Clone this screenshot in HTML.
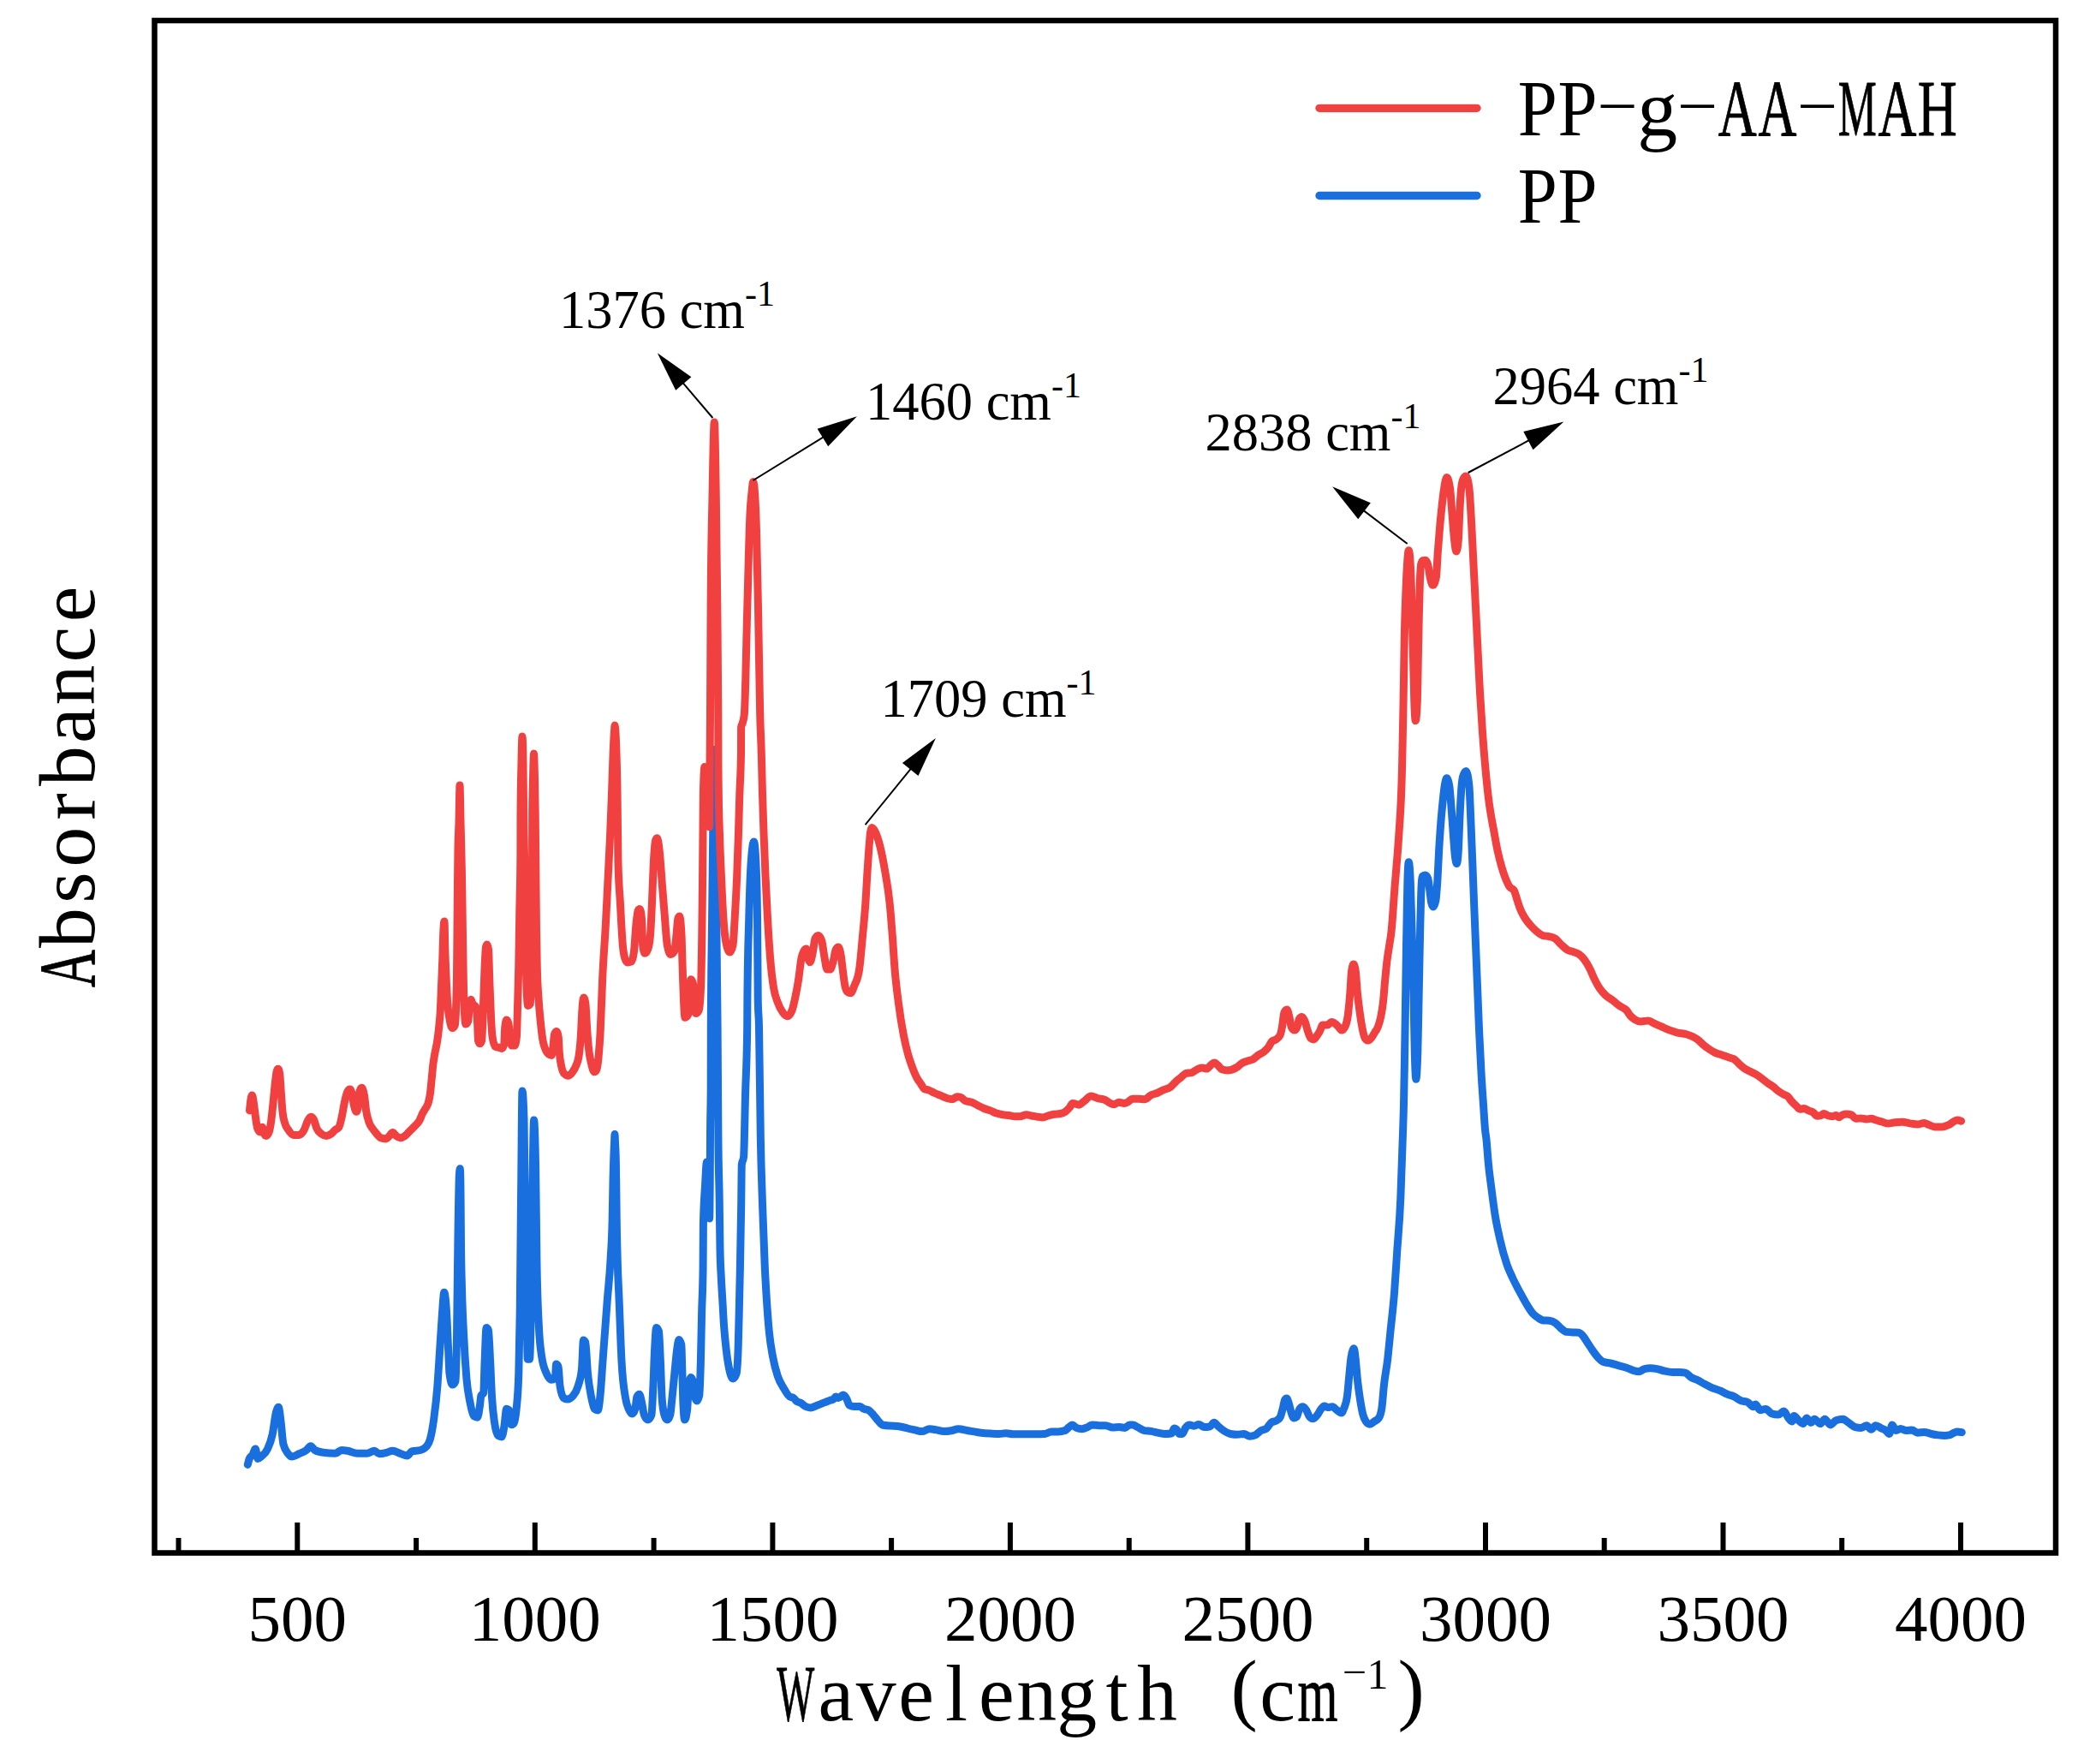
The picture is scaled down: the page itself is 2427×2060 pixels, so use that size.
<!DOCTYPE html>
<html lang="en"><head><meta charset="utf-8"><title>Absorbance</title>
<style>
html,body{margin:0;padding:0;background:#fff}
svg{display:block}
text{font-family:"Liberation Serif","Noto Serif CJK SC",serif;fill:#000}
.ax{font-size:93.75px}
.tk{font-size:77px;text-anchor:middle}
.an{font-size:62.5px}
.sp{font-size:42px}
</style></head><body>
<svg width="2427" height="2060" viewBox="0 0 2427 2060">
<rect width="2427" height="2060" fill="#fff"/>
<path fill="none" stroke="#1A6FDF" stroke-width="9" stroke-linejoin="round" stroke-linecap="round" d="M289.3 1710.5C290.0 1707.7 290.6 1705.0 291.3 1703.4C292.5 1700.5 293.7 1701.1 294.9 1699.1C296.0 1697.2 297.2 1692.1 298.3 1692.1C299.3 1692.1 300.2 1703.4 301.2 1703.4C302.6 1703.4 304.0 1701.8 305.4 1700.6C307.8 1698.6 310.1 1697.3 312.5 1692.1C314.4 1687.9 316.3 1684.1 318.2 1675.0C319.6 1668.3 321.0 1654.7 322.4 1649.5C323.4 1645.9 324.3 1643.3 325.3 1643.3C326.2 1643.3 327.2 1653.7 328.1 1660.9C329.0 1668.1 330.0 1682.7 330.9 1686.4C332.8 1693.9 334.7 1695.2 336.6 1697.7C338.0 1699.5 339.4 1701.1 340.8 1701.1C343.6 1701.1 346.5 1699.0 349.3 1697.7C352.1 1696.4 355.0 1695.7 357.8 1693.5C359.5 1692.2 361.2 1688.7 362.9 1688.7C364.5 1688.7 366.2 1692.6 367.8 1693.5C371.1 1695.4 374.4 1695.9 377.7 1696.3C382.4 1696.9 387.1 1697.2 391.8 1697.2C394.2 1697.2 396.5 1693.5 398.9 1693.5C401.3 1693.5 403.6 1693.9 406.0 1694.3C409.8 1694.9 413.6 1697.2 417.4 1697.2C421.2 1697.2 424.9 1697.2 428.7 1697.2C431.5 1697.2 434.4 1694.3 437.2 1694.3C439.1 1694.3 441.0 1697.7 442.9 1697.7C445.7 1697.7 448.6 1697.0 451.4 1696.3C453.7 1695.8 456.1 1694.3 458.4 1694.3C461.7 1694.3 465.1 1696.6 468.4 1697.7C470.7 1698.5 473.1 1700.0 475.4 1700.0C477.3 1700.0 479.2 1695.4 481.1 1694.9C484.4 1694.0 487.7 1694.4 491.0 1693.5C493.4 1692.8 495.7 1692.1 498.1 1689.2C499.5 1687.5 501.0 1686.0 502.4 1680.7C503.8 1675.5 505.2 1668.2 506.6 1658.0C508.0 1647.6 509.5 1636.8 510.9 1618.4C511.8 1606.4 512.8 1590.1 513.7 1575.9C514.6 1561.7 515.6 1545.2 516.5 1533.4C517.3 1523.7 518.0 1509.3 518.8 1509.3C519.7 1509.3 520.7 1518.5 521.6 1533.4C522.3 1544.1 522.9 1562.1 523.6 1575.9C524.1 1585.5 524.5 1600.7 525.0 1604.2C526.1 1612.7 527.3 1617.0 528.4 1617.0C529.6 1617.0 530.9 1615.6 532.1 1612.7C532.6 1611.6 533.0 1589.1 533.5 1561.7C534.0 1534.3 534.4 1479.4 534.9 1448.4C535.4 1415.1 535.9 1379.6 536.4 1371.8C536.7 1367.1 537.0 1364.8 537.3 1364.8C537.5 1364.8 537.8 1373.8 538.0 1391.7C538.2 1404.5 538.3 1437.3 538.5 1454.0C538.8 1487.4 539.2 1490.8 539.5 1505.0C540.2 1533.3 540.8 1541.4 541.5 1556.0C542.6 1580.9 543.8 1596.6 544.9 1609.9C546.3 1626.4 547.7 1630.9 549.1 1638.2C550.5 1645.7 552.0 1652.8 553.4 1653.8C554.8 1654.7 556.2 1655.2 557.6 1655.2C558.6 1655.2 559.5 1647.8 560.5 1641.0C561.0 1637.7 561.4 1630.6 561.9 1629.7C562.8 1627.8 563.8 1628.8 564.7 1626.9C565.2 1626.0 565.6 1601.0 566.1 1590.0C566.8 1574.2 567.4 1550.4 568.1 1550.4C568.9 1550.4 569.6 1551.3 570.4 1553.2C571.1 1555.0 571.9 1576.0 572.6 1590.0C573.3 1602.7 573.9 1621.5 574.6 1632.5C575.6 1648.5 576.5 1653.8 577.5 1660.9C578.9 1671.1 580.3 1675.6 581.7 1676.5C583.1 1677.4 584.6 1677.9 586.0 1677.9C586.9 1677.9 587.9 1671.9 588.8 1666.5C589.7 1661.1 590.7 1645.3 591.6 1645.3C592.6 1645.3 593.5 1645.8 594.5 1646.7C595.4 1647.6 596.4 1663.7 597.3 1663.7C598.2 1663.7 599.2 1663.2 600.1 1662.3C601.1 1661.3 602.0 1656.7 603.0 1646.7C603.9 1637.0 604.9 1632.5 605.8 1604.2C606.3 1590.0 606.7 1568.8 607.2 1533.4C607.7 1498.0 608.1 1434.9 608.6 1391.7C609.1 1348.5 609.5 1274.1 610.0 1274.1C610.7 1274.1 611.3 1285.0 612.0 1306.7C612.5 1321.9 612.9 1385.2 613.4 1420.0C614.0 1462.2 614.5 1502.9 615.1 1533.4C615.5 1555.0 615.9 1587.2 616.3 1587.2C617.0 1587.2 617.8 1587.2 618.5 1587.2C619.1 1587.2 619.6 1566.0 620.2 1533.4C620.8 1500.8 621.3 1429.2 621.9 1391.7C622.5 1354.1 623.0 1308.1 623.6 1308.1C624.3 1308.1 624.9 1326.5 625.6 1363.3C626.1 1389.1 626.5 1448.0 627.0 1476.7C627.8 1523.9 628.5 1530.9 629.3 1547.5C630.4 1572.1 631.6 1576.5 632.7 1584.4C634.6 1597.6 636.5 1599.7 638.4 1604.2C640.3 1608.6 642.1 1611.3 644.0 1611.3C645.4 1611.3 646.9 1610.8 648.3 1609.9C648.8 1609.6 649.2 1592.9 649.7 1592.9C650.5 1592.9 651.2 1593.8 652.0 1595.7C652.7 1597.3 653.3 1613.9 654.0 1618.4C655.4 1627.8 656.8 1631.5 658.2 1632.5C659.6 1633.5 661.1 1634.0 662.5 1634.0C664.8 1634.0 667.2 1632.6 669.5 1629.7C671.4 1627.4 673.3 1625.0 675.2 1618.4C676.6 1613.4 678.1 1611.8 679.5 1598.5C680.1 1592.6 680.8 1565.1 681.4 1565.1C682.2 1565.1 682.9 1565.9 683.7 1567.4C684.6 1569.3 685.6 1594.3 686.5 1604.2C687.9 1619.3 689.4 1625.3 690.8 1632.5C691.9 1638.2 693.1 1644.4 694.2 1645.3C695.6 1646.4 696.9 1646.9 698.3 1646.9C699.2 1646.9 700.1 1638.7 701.0 1630.0C702.0 1620.3 703.0 1603.0 704.0 1589.5C705.8 1565.7 707.5 1540.9 709.3 1518.1C710.6 1501.7 711.8 1494.6 713.1 1470.5C713.8 1457.2 714.5 1454.5 715.2 1422.9C715.5 1410.9 715.7 1392.0 716.0 1380.0C716.2 1369.5 716.5 1361.2 716.7 1354.0C717.0 1345.8 717.2 1340.9 717.5 1335.0C717.7 1331.3 717.8 1324.5 718.0 1324.5C718.2 1324.5 718.3 1331.3 718.5 1335.0C718.8 1340.9 719.0 1341.3 719.3 1354.0C719.4 1360.3 719.6 1370.1 719.7 1380.0C719.9 1392.4 720.0 1410.7 720.2 1422.9C720.5 1447.3 720.9 1457.2 721.2 1470.5C721.8 1495.7 722.5 1502.3 723.1 1518.1C724.1 1542.2 725.0 1571.4 726.0 1589.5C727.5 1617.6 729.0 1623.0 730.5 1632.4C731.8 1640.8 733.2 1642.9 734.5 1646.0C735.8 1649.0 737.0 1651.0 738.3 1651.0C739.5 1651.0 740.7 1649.1 741.9 1645.3C742.6 1643.2 743.2 1632.4 743.9 1631.1C744.9 1629.2 745.8 1628.3 746.8 1628.3C747.7 1628.3 748.7 1634.2 749.6 1638.2C750.5 1642.2 751.5 1650.0 752.4 1652.4C753.8 1656.1 755.3 1658.0 756.7 1658.0C758.1 1658.0 759.5 1656.1 760.9 1652.4C761.6 1650.6 762.2 1632.6 762.9 1618.4C763.5 1606.3 764.0 1586.9 764.6 1575.9C765.3 1563.0 765.9 1550.4 766.6 1550.4C767.5 1550.4 768.5 1551.8 769.4 1554.6C770.1 1556.6 770.7 1575.6 771.4 1590.0C772.0 1602.3 772.5 1624.4 773.1 1632.5C774.0 1645.8 775.0 1649.3 775.9 1652.4C777.0 1656.1 778.2 1658.0 779.3 1658.0C780.4 1658.0 781.6 1656.1 782.7 1652.4C783.5 1649.9 784.2 1639.6 785.0 1632.5C785.9 1623.8 786.9 1613.5 787.8 1604.2C788.8 1594.6 789.7 1582.8 790.7 1575.9C791.4 1570.7 792.2 1564.5 792.9 1564.5C793.9 1564.5 794.8 1566.4 795.8 1570.2C796.2 1571.6 796.5 1592.4 796.9 1604.2C797.3 1616.0 797.6 1633.7 798.0 1641.0C798.6 1652.3 799.1 1658.0 799.7 1658.0C800.7 1658.0 801.6 1654.2 802.6 1646.7C803.2 1642.3 803.7 1622.4 804.3 1618.4C805.2 1611.8 806.2 1608.5 807.1 1608.5C808.0 1608.5 809.0 1610.8 809.9 1615.5C810.6 1618.8 811.2 1630.2 811.9 1632.5C812.6 1634.8 813.2 1635.9 813.9 1635.9C814.8 1635.9 815.8 1633.8 816.7 1629.7C817.3 1627.2 817.8 1611.1 818.4 1590.0C818.8 1575.1 819.2 1550.2 819.6 1533.4C820.1 1512.4 820.6 1515.6 821.1 1480.0C821.2 1472.9 821.3 1434.3 821.4 1430.0C822.1 1400.0 822.8 1397.5 823.5 1385.0C824.1 1373.7 824.8 1357.0 825.4 1357.0C826.0 1357.0 826.7 1370.2 827.3 1385.0C827.7 1395.1 828.2 1423.0 828.6 1423.0C828.8 1423.0 829.0 1408.3 829.2 1380.0C829.3 1365.8 829.4 1341.9 829.5 1327.0C829.7 1292.2 830.0 1307.3 830.2 1268.0C830.2 1262.4 830.3 1206.7 830.3 1200.0C830.7 1120.0 831.1 1117.6 831.5 1080.0C832.0 1033.0 832.5 989.7 833.0 950.0C833.3 923.5 833.7 875.5 834.0 875.5C834.3 875.5 834.7 925.4 835.0 950.0C835.6 994.2 836.2 1029.7 836.8 1080.0C837.2 1116.4 837.7 1142.2 838.1 1200.0C838.4 1235.6 838.6 1297.1 838.9 1327.0C839.3 1375.7 839.8 1370.9 840.2 1400.0C840.5 1417.9 840.7 1445.2 841.0 1459.0C841.4 1479.7 841.8 1481.1 842.2 1490.0C842.7 1501.9 843.3 1508.7 843.8 1518.0C844.4 1527.9 844.9 1539.1 845.5 1547.5C846.4 1561.3 847.4 1568.9 848.3 1577.0C849.4 1586.3 850.4 1592.7 851.5 1598.0C853.0 1605.4 854.5 1610.0 856.0 1610.0C857.4 1610.0 858.7 1608.1 860.1 1604.2C860.8 1602.3 861.4 1594.8 862.1 1575.9C862.5 1565.5 862.8 1548.6 863.2 1533.4C863.6 1516.8 864.0 1500.2 864.4 1480.0C864.8 1458.1 865.3 1436.5 865.7 1406.0C865.9 1391.9 866.1 1361.6 866.3 1360.0C867.1 1354.0 867.8 1357.0 868.6 1351.0C869.2 1346.0 869.9 1302.4 870.5 1279.0C871.2 1251.9 872.0 1252.7 872.7 1200.0C872.8 1195.2 872.8 1172.4 872.9 1165.7C873.5 1102.2 874.2 1095.6 874.8 1070.5C875.5 1041.4 876.3 1021.3 877.0 1010.0C878.2 992.0 879.3 983.0 880.5 983.0C881.3 983.0 882.2 992.0 883.0 1010.0C883.5 1020.8 884.0 1030.2 884.5 1070.5C884.7 1089.3 885.0 1153.4 885.2 1165.7C885.6 1188.6 886.1 1180.5 886.5 1200.0C887.1 1226.9 887.7 1294.0 888.3 1327.0C889.0 1367.3 889.8 1382.7 890.5 1406.0C891.4 1435.6 892.4 1459.8 893.3 1480.0C894.0 1495.8 894.8 1507.8 895.5 1519.2C896.5 1534.3 897.4 1546.1 898.4 1556.0C899.8 1570.4 901.2 1576.6 902.6 1584.4C904.5 1595.0 906.4 1601.1 908.3 1607.0C910.7 1614.3 913.0 1617.2 915.4 1621.2C917.7 1625.2 920.1 1629.6 922.4 1631.1C923.8 1632.0 925.3 1631.6 926.7 1632.5C928.1 1633.4 929.5 1635.9 930.9 1636.8C932.3 1637.7 933.8 1637.5 935.2 1638.2C937.1 1639.2 939.0 1641.6 940.9 1642.5C942.8 1643.4 944.6 1643.9 946.5 1643.9C949.3 1643.9 952.2 1642.0 955.0 1641.0C957.8 1640.0 960.7 1638.7 963.5 1637.6C965.4 1636.9 967.3 1636.1 969.2 1635.4C970.6 1634.9 972.0 1634.9 973.4 1634.0C974.4 1633.4 975.3 1631.1 976.3 1631.1C977.2 1631.1 978.2 1632.5 979.1 1632.5C981.0 1632.5 982.9 1629.1 984.8 1629.1C986.2 1629.1 987.6 1631.3 989.0 1634.0C990.0 1635.8 990.9 1640.5 991.9 1641.0C993.8 1642.0 995.6 1642.5 997.5 1642.5C999.9 1642.5 1002.2 1642.5 1004.6 1642.5C1006.0 1642.5 1007.5 1644.6 1008.9 1645.3C1010.8 1646.2 1012.6 1645.8 1014.5 1646.7C1016.4 1647.7 1018.3 1650.3 1020.2 1652.4C1022.1 1654.5 1024.0 1657.5 1025.9 1659.5C1027.8 1661.5 1029.6 1663.9 1031.5 1664.3C1034.3 1664.8 1037.2 1664.9 1040.0 1665.1C1043.8 1665.4 1047.6 1665.4 1051.4 1666.0C1054.2 1666.4 1057.1 1667.3 1059.9 1668.0C1062.7 1668.7 1065.6 1669.3 1068.4 1669.9C1071.2 1670.5 1074.1 1671.6 1076.9 1671.6C1079.7 1671.6 1082.6 1668.8 1085.4 1668.8C1088.2 1668.8 1091.1 1669.4 1093.9 1669.9C1096.7 1670.4 1099.6 1671.6 1102.4 1671.6C1105.2 1671.6 1108.1 1671.3 1110.9 1670.8C1113.7 1670.3 1116.6 1668.8 1119.4 1668.8C1123.2 1668.8 1126.9 1670.2 1130.7 1670.8C1133.1 1671.2 1135.5 1671.5 1137.9 1671.9C1140.6 1672.3 1143.2 1672.9 1145.9 1673.2C1149.4 1673.6 1153.0 1673.8 1156.5 1674.0C1160.0 1674.2 1163.6 1674.5 1167.1 1674.5C1169.7 1674.5 1172.4 1673.7 1175.0 1673.7C1177.6 1673.7 1180.3 1674.8 1182.9 1674.8C1187.3 1674.8 1191.8 1674.8 1196.2 1674.8C1200.6 1674.8 1205.0 1674.8 1209.4 1674.8C1212.9 1674.8 1216.5 1674.7 1220.0 1674.5C1222.6 1674.4 1225.3 1671.9 1227.9 1671.9C1230.6 1671.9 1233.2 1671.9 1235.9 1671.9C1238.5 1671.9 1241.2 1671.5 1243.8 1670.6C1245.4 1670.1 1247.0 1667.8 1248.6 1666.6C1249.8 1665.6 1251.1 1663.9 1252.3 1663.9C1253.9 1663.9 1255.5 1666.8 1257.1 1667.4C1259.3 1668.3 1261.5 1668.7 1263.7 1668.7C1265.9 1668.7 1268.1 1667.5 1270.3 1666.6C1272.1 1665.9 1273.8 1663.9 1275.6 1663.9C1278.2 1663.9 1280.9 1664.7 1283.5 1664.7C1286.2 1664.7 1288.8 1664.7 1291.5 1664.7C1294.1 1664.7 1296.8 1667.1 1299.4 1667.1C1302.0 1667.1 1304.7 1666.6 1307.3 1666.6C1309.5 1666.6 1311.8 1667.4 1314.0 1667.4C1315.8 1667.4 1317.5 1663.9 1319.3 1663.9C1320.6 1663.9 1321.9 1663.9 1323.2 1663.9C1325.0 1663.9 1326.7 1665.7 1328.5 1666.6C1331.2 1667.9 1333.8 1670.1 1336.5 1670.6C1339.1 1671.1 1341.8 1671.0 1344.4 1671.4C1347.0 1671.8 1349.7 1672.7 1352.3 1673.2C1355.0 1673.7 1357.6 1674.5 1360.3 1674.5C1362.9 1674.5 1365.6 1674.3 1368.2 1674.0C1369.3 1673.9 1370.3 1667.9 1371.4 1667.9C1372.3 1667.9 1373.1 1668.4 1374.0 1669.2C1375.2 1670.3 1376.3 1674.5 1377.5 1674.5C1378.6 1674.5 1379.8 1674.5 1380.9 1674.5C1382.1 1674.5 1383.4 1669.1 1384.6 1667.4C1386.2 1665.2 1387.8 1663.9 1389.4 1663.9C1391.2 1663.9 1392.9 1665.3 1394.7 1665.3C1396.5 1665.3 1398.2 1663.4 1400.0 1663.4C1402.2 1663.4 1404.4 1666.6 1406.6 1666.6C1408.8 1666.6 1411.0 1666.3 1413.2 1665.8C1414.8 1665.4 1416.4 1661.3 1418.0 1661.3C1419.5 1661.3 1421.0 1664.0 1422.5 1665.3C1424.7 1667.2 1426.9 1669.1 1429.1 1670.6C1431.7 1672.3 1434.4 1674.0 1437.0 1674.5C1439.7 1675.0 1442.3 1675.3 1445.0 1675.3C1447.6 1675.3 1450.3 1674.5 1452.9 1674.5C1455.1 1674.5 1457.3 1677.2 1459.5 1677.2C1461.7 1677.2 1464.0 1676.8 1466.2 1675.9C1468.4 1675.0 1470.6 1671.9 1472.8 1670.6C1475.0 1669.3 1477.2 1669.7 1479.4 1667.9C1481.2 1666.5 1482.9 1662.7 1484.7 1661.3C1486.9 1659.6 1489.1 1660.4 1491.3 1658.7C1492.6 1657.7 1494.0 1657.4 1495.3 1654.7C1496.3 1652.6 1497.4 1648.1 1498.4 1644.1C1499.1 1641.2 1499.9 1636.1 1500.6 1634.8C1501.3 1633.6 1502.0 1633.0 1502.7 1633.0C1503.6 1633.0 1504.4 1636.1 1505.3 1638.8C1506.2 1641.6 1507.1 1646.6 1508.0 1649.4C1509.1 1652.7 1510.1 1656.0 1511.2 1656.0C1512.2 1656.0 1513.3 1655.6 1514.3 1654.7C1515.5 1653.7 1516.6 1647.0 1517.8 1645.4C1519.1 1643.7 1520.4 1642.8 1521.7 1642.8C1523.0 1642.8 1524.4 1644.7 1525.7 1646.7C1527.0 1648.7 1528.4 1653.3 1529.7 1654.7C1531.0 1656.1 1532.4 1656.8 1533.7 1656.8C1535.4 1656.8 1537.2 1654.3 1538.9 1652.0C1540.2 1650.2 1541.6 1647.1 1542.9 1645.4C1544.2 1643.7 1545.6 1642.0 1546.9 1642.0C1548.2 1642.0 1549.6 1643.6 1550.9 1643.6C1552.7 1643.6 1554.4 1642.8 1556.2 1642.8C1557.9 1642.8 1559.7 1645.5 1561.4 1646.7C1563.2 1647.9 1564.9 1649.9 1566.7 1649.9C1567.8 1649.9 1568.8 1647.0 1569.9 1644.1C1571.1 1640.9 1572.2 1639.6 1573.4 1630.9C1574.3 1624.4 1575.1 1613.0 1576.0 1604.4C1576.6 1598.1 1577.3 1590.5 1577.9 1585.9C1578.6 1580.8 1579.3 1578.4 1580.0 1576.6C1580.4 1575.5 1580.9 1574.7 1581.3 1574.7C1581.9 1574.7 1582.5 1580.9 1583.1 1585.9C1583.8 1592.0 1584.6 1602.7 1585.3 1609.7C1586.3 1619.5 1587.4 1626.7 1588.4 1633.5C1589.6 1641.1 1590.7 1647.6 1591.9 1652.0C1593.0 1656.3 1594.2 1658.4 1595.3 1660.0C1596.8 1662.1 1598.3 1663.2 1599.8 1663.2C1601.6 1663.2 1603.3 1661.2 1605.1 1660.0C1606.9 1658.8 1608.6 1658.7 1610.4 1656.0C1611.6 1654.2 1612.7 1652.0 1613.9 1644.1C1614.7 1638.4 1615.6 1625.5 1616.4 1617.7C1617.9 1604.1 1619.3 1599.4 1620.8 1586.5C1621.8 1577.4 1622.9 1565.7 1623.9 1555.4C1625.5 1539.7 1627.0 1529.1 1628.6 1508.6C1629.6 1495.1 1630.7 1477.4 1631.7 1461.8C1633.1 1441.1 1634.4 1432.0 1635.8 1399.5C1636.5 1382.1 1637.3 1359.1 1638.0 1337.0C1638.5 1321.9 1639.0 1312.0 1639.5 1290.0C1639.8 1276.8 1640.1 1260.8 1640.4 1243.5C1640.7 1224.3 1641.1 1201.3 1641.4 1179.3C1641.8 1155.1 1642.1 1126.8 1642.5 1104.4C1642.8 1086.1 1643.1 1069.3 1643.4 1054.6C1643.7 1041.5 1643.9 1026.0 1644.2 1019.7C1644.6 1011.0 1644.9 1006.7 1645.3 1006.7C1646.0 1006.7 1646.6 1014.3 1647.3 1029.6C1647.8 1041.0 1648.3 1062.9 1648.8 1079.5C1649.3 1096.1 1649.8 1107.8 1650.3 1129.4C1650.6 1143.8 1651.0 1162.7 1651.3 1179.3C1651.6 1195.9 1652.0 1216.4 1652.3 1229.1C1652.8 1248.2 1653.3 1260.3 1653.8 1260.3C1654.5 1260.3 1655.1 1249.9 1655.8 1229.1C1656.1 1218.7 1656.5 1195.9 1656.8 1179.3C1657.1 1162.7 1657.5 1146.0 1657.8 1129.4C1658.1 1112.8 1658.5 1094.0 1658.8 1079.5C1659.1 1065.0 1659.5 1050.4 1659.8 1042.1C1660.3 1029.6 1660.8 1023.8 1661.3 1023.4C1662.5 1022.5 1663.6 1022.1 1664.8 1022.1C1665.8 1022.1 1666.8 1023.4 1667.8 1025.9C1668.5 1027.6 1669.1 1034.8 1669.8 1039.6C1670.5 1044.4 1671.1 1051.6 1671.8 1054.6C1672.5 1057.6 1673.1 1059.1 1673.8 1059.1C1674.8 1059.1 1675.8 1056.8 1676.8 1052.1C1677.5 1049.0 1678.1 1040.0 1678.8 1029.6C1679.4 1019.7 1680.1 1003.2 1680.7 992.2C1681.4 980.6 1682.0 971.1 1682.7 962.3C1683.5 951.3 1684.4 942.8 1685.2 934.9C1686.0 927.0 1686.9 919.3 1687.7 914.9C1688.4 911.4 1689.0 908.7 1689.7 908.7C1690.7 908.7 1691.7 911.6 1692.7 917.4C1693.5 922.2 1694.4 934.4 1695.2 944.8C1696.0 955.2 1696.9 969.4 1697.7 979.8C1698.4 988.1 1699.0 997.5 1699.7 1002.2C1700.3 1006.2 1700.8 1008.4 1701.4 1008.4C1702.1 1008.4 1702.7 1003.0 1703.4 992.2C1703.8 985.2 1704.3 969.6 1704.7 959.8C1705.2 948.5 1705.7 937.9 1706.2 929.9C1706.9 918.2 1707.7 910.1 1708.4 907.4C1709.7 902.7 1710.9 900.4 1712.2 900.4C1713.4 900.4 1714.7 906.1 1715.9 917.4C1716.5 922.9 1717.1 941.1 1717.7 954.8C1718.4 970.0 1719.0 987.6 1719.7 1004.7C1720.3 1020.9 1721.0 1038.4 1721.6 1054.6C1722.3 1071.7 1722.9 1087.8 1723.6 1104.4C1724.3 1121.0 1724.9 1137.7 1725.6 1154.3C1726.3 1170.9 1726.9 1189.0 1727.6 1204.2C1728.4 1223.1 1729.3 1239.5 1730.1 1254.1C1730.9 1268.6 1731.8 1279.4 1732.6 1291.5C1733.3 1301.2 1733.9 1313.2 1734.6 1319.9C1735.0 1324.3 1735.5 1325.6 1735.9 1329.5C1736.7 1336.9 1737.6 1350.4 1738.4 1359.0C1739.6 1371.4 1740.8 1379.1 1742.0 1388.5C1743.3 1398.9 1744.7 1409.4 1746.0 1418.0C1748.0 1430.6 1749.9 1438.8 1751.9 1447.5C1754.6 1459.6 1757.4 1469.1 1760.1 1477.0C1762.2 1483.2 1764.4 1487.4 1766.5 1492.0C1768.9 1497.3 1771.4 1501.9 1773.8 1506.5C1776.5 1511.6 1779.2 1516.7 1781.9 1521.2C1784.9 1526.1 1787.8 1531.3 1790.8 1534.5C1792.7 1536.5 1794.6 1537.8 1796.5 1539.0C1798.5 1540.3 1800.6 1541.7 1802.6 1541.9C1804.9 1542.1 1807.3 1542.0 1809.6 1542.2C1811.8 1542.4 1814.0 1543.3 1816.2 1544.8C1818.4 1546.2 1820.6 1549.1 1822.8 1550.9C1825.0 1552.7 1827.2 1555.1 1829.4 1555.4C1832.0 1555.8 1834.7 1555.9 1837.3 1556.0C1839.5 1556.1 1841.8 1556.1 1844.0 1556.2C1845.8 1556.3 1847.5 1558.6 1849.3 1560.7C1851.1 1562.8 1852.8 1566.0 1854.6 1568.7C1856.3 1571.3 1858.1 1574.1 1859.8 1576.6C1862.0 1579.8 1864.3 1583.0 1866.5 1585.3C1868.7 1587.6 1870.9 1589.8 1873.1 1590.6C1875.7 1591.5 1878.4 1591.4 1881.0 1592.0C1884.1 1592.7 1887.2 1593.7 1890.3 1594.6C1893.4 1595.5 1896.5 1596.1 1899.6 1597.2C1902.2 1598.1 1904.9 1599.6 1907.5 1600.4C1909.7 1601.0 1911.9 1601.7 1914.1 1601.7C1916.3 1601.7 1918.5 1599.1 1920.7 1598.6C1922.9 1598.1 1925.1 1597.8 1927.3 1597.8C1930.0 1597.8 1932.6 1598.1 1935.3 1598.6C1938.4 1599.2 1941.4 1600.6 1944.5 1601.2C1947.6 1601.9 1950.7 1602.5 1953.8 1602.5C1956.5 1602.5 1959.1 1602.5 1961.8 1602.5C1964.0 1602.5 1966.2 1602.7 1968.4 1603.1C1970.6 1603.5 1972.8 1607.0 1975.0 1608.4C1977.6 1610.1 1980.3 1610.5 1982.9 1611.8C1985.6 1613.1 1988.2 1614.9 1990.9 1616.3C1993.5 1617.7 1996.2 1619.1 1998.8 1620.3C2002.3 1621.9 2005.9 1622.6 2009.4 1624.2C2012.0 1625.4 2014.7 1627.1 2017.3 1628.2C2020.0 1629.3 2022.6 1629.7 2025.3 1630.9C2027.9 1632.1 2030.6 1634.5 2033.2 1635.6C2035.9 1636.7 2038.5 1636.2 2041.2 1637.5C2043.4 1638.5 2045.6 1642.8 2047.8 1642.8C2048.7 1642.8 2049.5 1640.1 2050.4 1640.1C2052.2 1640.1 2053.9 1646.7 2055.7 1646.7C2057.9 1646.7 2060.1 1645.4 2062.3 1645.4C2064.5 1645.4 2066.8 1650.0 2069.0 1650.7C2071.6 1651.6 2074.3 1652.0 2076.9 1652.0C2079.1 1652.0 2081.3 1648.1 2083.5 1648.1C2085.3 1648.1 2087.0 1653.9 2088.8 1656.0C2090.1 1657.6 2091.5 1660.0 2092.8 1660.0C2093.7 1660.0 2094.5 1653.4 2095.4 1653.4C2097.2 1653.4 2098.9 1657.2 2100.7 1658.7C2102.5 1660.2 2104.2 1662.6 2106.0 1662.6C2107.3 1662.6 2108.7 1656.0 2110.0 1656.0C2111.8 1656.0 2113.5 1661.3 2115.3 1661.3C2116.6 1661.3 2117.9 1657.3 2119.2 1657.3C2121.4 1657.3 2123.7 1662.6 2125.9 1662.6C2127.7 1662.6 2129.4 1657.3 2131.2 1657.3C2133.4 1657.3 2135.6 1663.9 2137.8 1663.9C2140.0 1663.9 2142.2 1659.5 2144.4 1658.7C2147.0 1657.8 2149.7 1657.3 2152.3 1657.3C2154.5 1657.3 2156.7 1659.9 2158.9 1661.3C2161.6 1663.0 2164.2 1666.0 2166.9 1666.6C2169.1 1667.1 2171.3 1667.4 2173.5 1667.4C2175.7 1667.4 2177.9 1664.7 2180.1 1664.7C2181.9 1664.7 2183.6 1669.2 2185.4 1669.2C2187.2 1669.2 2188.9 1664.7 2190.7 1664.7C2192.9 1664.7 2195.1 1666.8 2197.3 1667.9C2199.1 1668.8 2200.8 1669.2 2202.6 1670.6C2203.9 1671.6 2205.3 1674.5 2206.6 1674.5C2207.7 1674.5 2208.9 1663.9 2210.0 1663.9C2211.5 1663.9 2213.0 1670.6 2214.5 1670.6C2216.3 1670.6 2218.0 1668.4 2219.8 1668.4C2222.0 1668.4 2224.2 1670.6 2226.4 1670.6C2228.6 1670.6 2230.9 1670.0 2233.1 1670.0C2235.3 1670.0 2237.5 1673.2 2239.7 1673.2C2242.3 1673.2 2245.0 1672.4 2247.6 1672.4C2250.3 1672.4 2252.9 1673.9 2255.6 1674.5C2258.2 1675.1 2260.9 1675.6 2263.5 1675.9C2266.1 1676.2 2268.8 1676.4 2271.4 1676.4C2273.2 1676.4 2274.9 1676.2 2276.7 1675.9C2278.5 1675.6 2280.2 1673.9 2282.0 1673.2C2283.3 1672.7 2284.7 1671.9 2286.0 1671.9C2287.8 1671.9 2289.5 1672.3 2291.3 1672.7"/>
<path fill="none" stroke="#F14040" stroke-width="9" stroke-linejoin="round" stroke-linecap="round" d="M291.5 1297.0C291.9 1292.8 292.3 1288.6 292.7 1285.7C293.3 1281.4 293.9 1278.9 294.5 1278.9C295.4 1278.9 296.3 1288.5 297.2 1294.7C297.8 1298.8 298.4 1304.5 299.0 1308.4C299.5 1311.9 300.1 1316.0 300.6 1317.4C301.7 1320.5 302.9 1322.0 304.0 1322.0C304.8 1322.0 305.5 1316.3 306.3 1316.3C307.1 1316.3 307.8 1322.6 308.6 1324.2C309.3 1325.7 310.1 1326.5 310.8 1326.5C311.9 1326.5 313.1 1325.0 314.2 1322.0C315.0 1320.0 315.7 1315.9 316.5 1310.6C317.3 1305.3 318.0 1297.6 318.8 1290.2C319.5 1283.2 320.3 1274.0 321.0 1267.5C321.8 1260.7 322.5 1252.6 323.3 1250.5C323.8 1249.0 324.4 1248.3 324.9 1248.3C325.5 1248.3 326.1 1250.2 326.7 1253.9C327.3 1257.6 327.9 1270.9 328.5 1278.9C329.0 1286.0 329.6 1294.2 330.1 1299.3C330.9 1306.6 331.6 1307.6 332.4 1310.6C333.9 1316.5 335.4 1317.3 336.9 1319.7C338.8 1322.7 340.7 1325.4 342.6 1325.4C344.9 1325.4 347.1 1325.4 349.4 1325.4C351.3 1325.4 353.2 1323.2 355.1 1319.7C356.6 1316.9 358.1 1311.1 359.6 1308.4C360.7 1306.4 361.9 1304.3 363.0 1304.3C364.1 1304.3 365.3 1305.3 366.4 1307.2C367.5 1309.1 368.7 1314.8 369.8 1317.4C371.7 1321.8 373.6 1322.7 375.5 1324.2C377.4 1325.7 379.2 1326.5 381.1 1326.5C383.0 1326.5 384.9 1325.6 386.8 1324.2C388.3 1323.1 389.8 1321.0 391.3 1319.7C392.8 1318.4 394.4 1318.6 395.9 1316.3C397.0 1314.6 398.2 1308.9 399.3 1303.8C400.4 1298.7 401.6 1290.6 402.7 1285.7C403.8 1280.8 405.0 1276.1 406.1 1274.3C407.0 1272.8 407.9 1272.1 408.8 1272.1C409.6 1272.1 410.3 1273.6 411.1 1276.6C411.8 1279.5 412.6 1286.8 413.3 1290.2C414.3 1294.9 415.3 1298.2 416.3 1298.2C417.1 1298.2 417.8 1295.5 418.6 1290.2C419.1 1286.7 419.6 1276.0 420.1 1274.3C420.9 1271.6 421.6 1270.3 422.4 1270.3C423.4 1270.3 424.4 1273.2 425.4 1278.9C426.1 1283.1 426.9 1292.2 427.6 1297.0C428.7 1304.4 429.9 1307.2 431.0 1310.6C432.5 1315.3 434.1 1316.3 435.6 1318.6C437.1 1320.8 438.6 1322.5 440.1 1324.2C441.6 1325.9 443.1 1328.2 444.6 1328.8C446.5 1329.5 448.4 1329.9 450.3 1329.9C451.8 1329.9 453.3 1327.9 454.8 1326.5C456.1 1325.3 457.4 1322.4 458.7 1322.4C460.1 1322.4 461.4 1325.5 462.8 1326.5C464.3 1327.7 465.8 1328.8 467.3 1328.8C469.2 1328.8 471.1 1327.8 473.0 1326.5C474.9 1325.2 476.8 1322.7 478.7 1320.8C480.6 1318.9 482.4 1317.2 484.3 1315.2C486.2 1313.1 488.1 1312.0 490.0 1308.4C491.1 1306.2 492.3 1302.7 493.4 1300.4C494.5 1298.1 495.7 1296.8 496.8 1294.7C497.9 1292.6 499.1 1292.1 500.2 1287.9C501.0 1285.0 501.7 1282.6 502.5 1276.6C503.0 1272.4 503.6 1266.0 504.1 1260.7C504.7 1254.7 505.3 1247.6 505.9 1242.6C506.6 1236.5 507.4 1233.1 508.1 1229.0C508.9 1224.7 509.6 1222.5 510.4 1217.6C511.2 1212.7 511.9 1207.6 512.7 1199.5C513.3 1193.2 513.9 1189.4 514.5 1176.8C514.8 1170.5 515.1 1161.6 515.4 1154.1C515.9 1142.5 516.3 1133.8 516.8 1120.1C517.1 1111.3 517.4 1097.4 517.7 1090.6C518.1 1080.8 518.6 1075.9 519.0 1075.9C519.3 1075.9 519.5 1098.4 519.8 1107.6C520.2 1121.4 520.6 1130.1 521.0 1139.4C521.6 1152.6 522.1 1163.0 522.7 1171.1C523.5 1182.0 524.2 1185.3 525.0 1190.0C526.1 1197.0 527.3 1200.6 528.4 1200.6C529.4 1200.6 530.3 1199.5 531.3 1197.2C531.7 1196.2 532.2 1190.4 532.6 1176.8C532.9 1166.3 533.3 1160.7 533.6 1131.4C533.8 1113.8 534.0 1084.6 534.2 1063.4C534.4 1038.7 534.7 1010.4 534.9 995.4C535.3 971.8 535.6 973.9 536.0 960.0C536.3 947.4 536.7 917.0 537.0 917.0C537.3 917.0 537.7 945.9 538.0 960.0C538.5 979.8 538.9 991.4 539.4 1018.0C539.7 1037.0 540.1 1064.3 540.4 1086.1C540.7 1105.7 541.0 1127.7 541.3 1142.8C541.6 1157.9 541.9 1170.4 542.2 1176.8C542.8 1189.7 543.4 1196.1 544.0 1196.1C544.9 1196.1 545.8 1195.0 546.7 1192.7C547.3 1191.2 547.9 1176.0 548.5 1172.3C549.0 1169.0 549.6 1167.3 550.1 1167.3C550.9 1167.3 551.6 1172.6 552.4 1173.4C553.1 1174.1 553.9 1173.8 554.6 1174.5C555.1 1175.0 555.7 1175.3 556.2 1176.8C556.7 1178.1 557.1 1186.2 557.6 1195.0C557.9 1200.7 558.2 1214.3 558.5 1215.4C559.1 1217.7 559.7 1218.8 560.3 1218.8C561.1 1218.8 561.8 1217.7 562.6 1215.4C563.2 1213.6 563.8 1191.9 564.4 1176.8C564.9 1163.4 565.5 1143.3 566.0 1131.4C566.5 1119.5 567.1 1107.3 567.6 1105.4C568.0 1103.9 568.5 1103.1 568.9 1103.1C569.4 1103.1 570.0 1105.0 570.5 1108.8C570.9 1111.7 571.3 1132.0 571.7 1142.8C572.3 1159.0 572.9 1176.5 573.5 1188.1C574.0 1198.4 574.6 1207.2 575.1 1210.8C576.2 1218.4 577.4 1221.6 578.5 1222.2C580.0 1222.9 581.5 1222.9 583.0 1223.3C584.1 1223.6 585.3 1224.4 586.4 1224.4C587.2 1224.4 587.9 1222.9 588.7 1219.9C589.1 1218.5 589.4 1202.9 589.8 1199.5C590.4 1193.9 591.0 1191.1 591.6 1191.1C592.4 1191.1 593.1 1192.4 593.9 1195.0C594.4 1196.8 595.0 1206.7 595.5 1210.8C596.2 1216.4 597.0 1221.0 597.7 1221.0C598.8 1221.0 600.0 1221.0 601.1 1221.0C601.9 1221.0 602.6 1217.6 603.4 1210.8C603.8 1207.5 604.1 1189.3 604.5 1176.8C604.9 1163.1 605.3 1151.5 605.7 1131.4C606.1 1112.9 606.4 1085.3 606.8 1063.4C607.2 1041.5 607.5 1042.2 607.9 999.9C607.9 996.1 608.0 954.0 608.0 950.0C608.3 910.0 608.7 905.0 609.0 890.0C609.3 875.0 609.7 860.0 610.0 860.0C610.3 860.0 610.7 870.0 611.0 890.0C611.2 902.0 611.4 933.0 611.6 950.0C612.0 986.8 612.5 989.4 612.9 1018.0C613.2 1037.8 613.5 1065.3 613.8 1086.1C614.1 1106.9 614.4 1132.8 614.7 1142.8C615.3 1163.9 616.0 1174.5 616.6 1174.5C617.5 1174.5 618.4 1173.8 619.3 1172.3C619.7 1171.6 620.2 1162.5 620.6 1142.8C620.8 1135.2 620.9 1106.9 621.1 1086.1C621.3 1065.3 621.4 1063.4 621.6 1018.0C621.6 1008.9 621.7 953.3 621.7 950.0C622.0 920.0 622.3 916.7 622.6 905.0C622.9 893.3 623.2 880.0 623.5 880.0C623.8 880.0 624.1 892.1 624.4 905.0C624.7 916.4 624.9 926.3 625.2 950.0C625.4 967.8 625.6 996.8 625.8 1018.0C626.0 1042.7 626.3 1067.8 626.5 1086.0C626.8 1106.8 627.0 1120.2 627.3 1131.0C627.9 1154.0 628.4 1155.9 629.0 1165.5C629.8 1179.5 630.7 1186.8 631.5 1195.0C632.5 1204.9 633.5 1213.3 634.5 1217.6C636.6 1226.7 638.7 1229.7 640.8 1231.2C641.9 1232.0 643.1 1232.4 644.2 1232.4C644.8 1232.4 645.4 1226.7 646.0 1222.2C646.5 1218.2 647.1 1208.7 647.6 1207.4C648.4 1205.5 649.1 1204.5 649.9 1204.5C650.7 1204.5 651.4 1206.6 652.2 1210.8C652.6 1212.8 652.9 1224.1 653.3 1229.0C654.1 1239.3 654.8 1240.9 655.6 1244.9C656.7 1250.8 657.9 1252.7 659.0 1253.9C660.5 1255.4 662.0 1256.2 663.5 1256.2C665.0 1256.2 666.5 1254.6 668.0 1252.8C669.5 1250.9 671.1 1249.0 672.6 1244.9C673.7 1241.9 674.9 1241.1 676.0 1233.5C676.8 1228.4 677.5 1222.2 678.3 1210.8C678.9 1201.8 679.5 1184.5 680.1 1176.8C680.6 1170.0 681.2 1165.0 681.7 1165.0C682.4 1165.0 683.2 1167.4 683.9 1172.3C684.4 1175.8 685.0 1191.5 685.5 1199.5C686.1 1208.5 686.7 1216.0 687.3 1222.2C688.4 1233.9 689.6 1237.7 690.7 1242.6C691.8 1247.5 693.0 1251.7 694.1 1251.7C694.9 1251.7 695.7 1251.1 696.5 1250.0C697.3 1248.8 698.2 1243.6 699.0 1235.0C699.7 1227.4 700.5 1218.0 701.2 1204.0C702.0 1188.1 702.9 1160.0 703.7 1142.0C704.9 1115.3 706.2 1102.6 707.4 1079.5C708.2 1063.9 709.1 1046.2 709.9 1029.6C710.7 1013.0 711.6 998.6 712.4 979.7C713.1 964.5 713.7 948.0 714.4 929.8C715.0 914.3 715.5 893.5 716.1 880.0C716.5 870.5 716.9 861.9 717.3 856.0C717.6 852.1 717.8 847.0 718.1 847.0C718.4 847.0 718.7 851.0 719.0 856.0C719.3 861.5 719.7 868.6 720.0 880.0C720.4 892.5 720.7 902.9 721.1 929.8C721.4 949.3 721.6 994.1 721.9 1004.7C722.7 1038.0 723.6 1039.2 724.4 1054.6C725.4 1073.0 726.4 1093.8 727.4 1104.5C728.2 1113.1 729.0 1116.4 729.8 1119.0C730.8 1122.3 731.9 1124.0 732.9 1124.0C734.5 1124.0 736.0 1123.6 737.6 1122.9C738.6 1122.4 739.5 1118.9 740.5 1111.0C741.3 1104.4 742.1 1088.0 742.9 1080.0C743.7 1072.3 744.4 1064.8 745.2 1063.3C745.8 1062.0 746.5 1061.4 747.1 1061.4C747.9 1061.4 748.7 1065.2 749.5 1072.9C749.9 1076.7 750.3 1100.6 750.7 1103.8C751.5 1110.1 752.3 1113.3 753.1 1113.3C754.3 1113.3 755.5 1111.7 756.7 1108.6C757.6 1106.2 758.6 1103.0 759.5 1091.9C760.1 1084.3 760.8 1070.1 761.4 1056.2C762.0 1042.3 762.7 1020.7 763.3 1008.6C764.1 993.4 764.9 983.5 765.7 981.2C766.3 979.6 766.8 978.8 767.4 978.8C768.4 978.8 769.5 986.9 770.5 996.7C771.4 1005.5 772.4 1020.7 773.3 1032.4C774.3 1044.5 775.2 1056.6 776.2 1068.1C777.2 1080.4 778.3 1098.3 779.3 1103.8C780.6 1110.9 782.0 1114.5 783.3 1114.5C784.7 1114.5 786.2 1113.3 787.6 1111.0C788.4 1109.7 789.2 1099.3 790.0 1091.9C790.6 1086.0 791.3 1074.2 791.9 1072.4C792.5 1070.8 793.0 1070.0 793.6 1070.0C794.4 1070.0 795.2 1077.3 796.0 1091.9C796.4 1098.6 796.7 1116.2 797.1 1127.6C797.5 1140.1 797.9 1153.9 798.3 1163.3C798.9 1176.6 799.4 1188.3 800.0 1188.3C801.3 1188.3 802.5 1187.1 803.8 1184.8C804.4 1183.8 804.9 1156.8 805.5 1151.4C806.0 1146.3 806.6 1143.8 807.1 1143.8C807.9 1143.8 808.7 1145.5 809.5 1149.0C810.0 1151.2 810.5 1170.0 811.0 1175.2C811.5 1180.8 812.1 1183.6 812.6 1183.6C813.8 1183.6 815.0 1182.4 816.2 1180.0C817.0 1178.4 817.8 1170.5 818.6 1151.4C819.0 1141.9 819.4 1120.7 819.8 1091.9C820.0 1075.1 820.3 1056.9 820.5 1032.4C820.7 1014.9 820.8 992.8 821.0 972.9C821.1 957.0 821.3 930.5 821.4 925.2C821.9 905.4 822.4 895.5 822.9 895.5C823.8 895.5 824.8 897.5 825.7 901.4C826.3 904.1 827.0 930.5 827.6 944.3C827.9 951.6 828.3 965.7 828.6 965.7C828.7 965.7 828.9 920.0 829.0 900.0C829.2 875.0 829.3 861.8 829.5 834.0C829.7 800.7 829.9 736.2 830.1 709.0C830.7 623.0 831.4 614.4 832.0 580.0C832.8 538.4 833.5 493.0 834.3 493.0C835.0 493.0 835.6 534.8 836.3 580.0C836.8 613.9 837.3 654.3 837.8 709.0C838.1 745.5 838.5 750.7 838.8 834.0C838.8 842.3 838.9 872.1 838.9 880.0C839.0 911.7 839.2 917.0 839.3 927.6C839.7 959.3 840.1 961.6 840.5 975.2C841.1 996.8 841.8 1008.5 842.4 1022.9C843.2 1041.1 844.0 1058.2 844.8 1070.5C845.7 1084.9 846.7 1093.9 847.6 1099.0C849.2 1107.7 850.8 1112.1 852.4 1112.1C853.6 1112.1 854.8 1109.3 856.0 1103.8C856.8 1100.3 857.5 1083.6 858.3 1070.5C859.1 1056.8 859.9 1042.6 860.7 1022.9C861.3 1008.9 861.8 992.9 862.4 975.2C862.9 960.6 863.3 942.2 863.8 927.6C864.4 909.9 864.9 911.7 865.5 880.0C865.5 878.1 865.6 849.4 865.6 849.2C866.2 845.9 866.7 846.4 867.3 844.2C868.0 841.6 868.6 840.9 869.3 834.3C870.5 822.7 871.6 750.2 872.8 709.5C873.9 672.3 874.9 622.2 876.0 600.0C876.7 586.1 877.3 581.5 878.0 575.0C878.6 569.5 879.1 562.5 879.7 562.5C880.3 562.5 880.9 566.7 881.5 575.0C882.2 584.3 882.8 597.6 883.5 620.0C884.2 642.4 884.8 675.9 885.5 709.5C886.2 746.5 887.0 804.7 887.7 834.3C888.2 855.9 888.8 861.4 889.3 880.0C889.7 894.0 890.1 913.4 890.5 927.6C891.0 946.5 891.6 960.5 892.1 975.2C892.7 992.7 893.4 1008.5 894.0 1022.9C894.8 1041.1 895.6 1056.2 896.4 1070.5C897.4 1089.0 898.5 1105.2 899.5 1118.1C900.9 1135.2 902.2 1145.2 903.6 1153.8C905.2 1163.7 906.7 1166.0 908.3 1170.5C910.3 1176.2 912.3 1179.7 914.3 1182.4C916.0 1184.8 917.8 1186.7 919.5 1186.7C921.3 1186.7 923.2 1184.5 925.0 1180.0C926.2 1177.1 927.4 1171.3 928.6 1165.7C930.0 1159.0 931.5 1151.7 932.9 1141.9C933.8 1135.5 934.8 1125.7 935.7 1120.5C936.9 1113.8 938.1 1111.7 939.3 1109.8C940.1 1108.5 940.9 1107.9 941.7 1107.9C942.1 1107.9 942.5 1113.2 942.9 1115.3C943.9 1120.7 945.0 1123.7 946.0 1123.7C947.2 1123.7 948.4 1116.6 949.6 1110.5C950.4 1106.4 951.2 1097.6 952.0 1096.0C953.2 1093.6 954.4 1092.4 955.6 1092.4C957.0 1092.4 958.3 1094.4 959.7 1098.4C960.8 1101.5 961.8 1112.0 962.9 1117.7C963.9 1123.2 965.0 1132.1 966.0 1132.1C967.1 1132.1 968.3 1132.1 969.4 1132.1C970.7 1132.1 971.9 1127.2 973.2 1122.5C974.2 1118.9 975.1 1111.4 976.1 1109.3C977.1 1107.2 978.0 1106.1 979.0 1106.1C980.0 1106.1 981.1 1109.3 982.1 1115.3C982.9 1119.9 983.7 1128.5 984.5 1134.5C985.3 1140.5 986.1 1147.7 986.9 1151.4C987.9 1156.2 989.0 1157.9 990.0 1158.6C991.1 1159.4 992.3 1159.8 993.4 1159.8C994.8 1159.8 996.3 1155.0 997.7 1151.4C999.6 1146.6 1001.6 1145.2 1003.5 1132.7C1004.8 1124.3 1006.1 1108.0 1007.4 1094.1C1008.5 1082.0 1009.7 1072.1 1010.8 1055.6C1011.6 1044.4 1012.3 1029.0 1013.1 1017.1C1013.8 1006.8 1014.4 996.4 1015.1 988.2C1015.6 982.0 1016.1 975.4 1016.6 972.0C1017.1 968.4 1017.7 966.6 1018.2 966.6C1019.5 966.6 1020.7 968.6 1022.0 971.0C1023.9 974.6 1025.9 980.5 1027.8 988.2C1029.7 995.9 1031.7 1005.6 1033.6 1017.1C1035.5 1028.2 1037.3 1036.6 1039.2 1055.6C1040.3 1066.4 1041.3 1080.0 1042.4 1094.1C1043.3 1106.0 1044.2 1121.7 1045.1 1132.7C1046.5 1150.2 1048.0 1159.9 1049.4 1171.2C1051.4 1187.2 1053.5 1199.2 1055.5 1209.7C1057.2 1218.3 1058.8 1224.9 1060.5 1231.0C1062.4 1238.1 1064.4 1243.3 1066.3 1248.3C1067.9 1252.4 1069.4 1256.1 1071.0 1259.0C1072.5 1261.8 1073.9 1263.4 1075.4 1265.6C1076.8 1267.7 1078.2 1271.0 1079.6 1271.7C1081.2 1272.5 1082.8 1272.3 1084.4 1272.9C1086.8 1273.7 1089.2 1275.4 1091.6 1276.5C1094.0 1277.6 1096.4 1278.4 1098.8 1279.4C1101.2 1280.4 1103.6 1281.8 1106.0 1282.5C1108.0 1283.1 1110.0 1283.7 1112.0 1283.7C1114.0 1283.7 1116.1 1280.8 1118.1 1280.8C1119.3 1280.8 1120.5 1281.0 1121.7 1281.3C1123.7 1281.9 1125.7 1284.7 1127.7 1285.6C1130.1 1286.7 1132.5 1286.4 1134.9 1287.3C1137.3 1288.2 1139.7 1289.7 1142.1 1290.9C1144.5 1292.1 1146.9 1293.5 1149.3 1294.5C1151.7 1295.5 1154.2 1296.0 1156.6 1296.9C1159.0 1297.8 1161.4 1299.3 1163.8 1300.1C1166.2 1300.9 1168.6 1301.4 1171.0 1301.8C1173.4 1302.2 1175.8 1302.2 1178.2 1302.5C1180.6 1302.8 1183.0 1303.7 1185.4 1303.7C1187.4 1303.7 1189.4 1303.7 1191.4 1303.7C1193.8 1303.7 1196.3 1301.8 1198.7 1301.8C1200.7 1301.8 1202.7 1302.6 1204.7 1303.0C1207.1 1303.4 1209.5 1303.9 1211.9 1304.2C1213.9 1304.5 1215.9 1304.9 1217.9 1304.9C1219.9 1304.9 1221.9 1303.6 1223.9 1303.0C1226.3 1302.3 1228.7 1301.7 1231.1 1301.3C1233.5 1300.9 1236.0 1301.0 1238.4 1300.5C1240.4 1300.1 1242.4 1299.6 1244.4 1298.1C1246.0 1296.9 1247.6 1295.2 1249.2 1293.3C1250.4 1291.9 1251.6 1288.5 1252.8 1288.5C1255.2 1288.5 1257.6 1290.2 1260.0 1290.2C1262.0 1290.2 1264.0 1287.5 1266.0 1286.1C1268.8 1284.1 1271.7 1280.1 1274.5 1280.1C1276.9 1280.1 1279.3 1281.8 1281.7 1282.5C1284.5 1283.3 1287.3 1283.1 1290.1 1284.2C1292.1 1285.0 1294.1 1287.0 1296.1 1288.0C1297.7 1288.8 1299.3 1289.7 1300.9 1289.7C1302.9 1289.7 1304.9 1287.3 1306.9 1287.3C1308.9 1287.3 1311.0 1288.5 1313.0 1288.5C1314.6 1288.5 1316.2 1287.5 1317.8 1286.6C1319.4 1285.7 1321.0 1283.2 1322.6 1283.2C1325.0 1283.2 1327.4 1283.2 1329.8 1283.2C1332.2 1283.2 1334.6 1283.7 1337.0 1283.7C1339.4 1283.7 1341.8 1280.1 1344.2 1278.9C1346.6 1277.7 1349.1 1277.5 1351.5 1276.5C1353.9 1275.5 1356.3 1274.0 1358.7 1272.9C1361.5 1271.6 1364.3 1271.4 1367.1 1269.3C1369.1 1267.8 1371.1 1265.1 1373.1 1263.3C1375.1 1261.5 1377.1 1260.0 1379.1 1258.4C1381.1 1256.8 1383.1 1254.3 1385.1 1253.6C1387.5 1252.8 1390.0 1253.2 1392.4 1252.4C1394.8 1251.6 1397.2 1249.0 1399.6 1248.1C1401.2 1247.5 1402.8 1247.1 1404.4 1247.1C1406.0 1247.1 1407.6 1248.1 1409.2 1248.1C1410.8 1248.1 1412.4 1245.3 1414.0 1244.0C1415.4 1242.9 1416.9 1240.9 1418.3 1240.9C1419.7 1240.9 1421.0 1242.8 1422.4 1244.0C1424.0 1245.4 1425.6 1248.2 1427.2 1248.8C1429.2 1249.6 1431.3 1250.0 1433.3 1250.0C1437.0 1250.0 1440.8 1248.8 1444.5 1246.4C1446.5 1245.1 1448.5 1242.8 1450.5 1241.6C1452.5 1240.4 1454.5 1239.9 1456.5 1239.2C1458.9 1238.3 1461.4 1238.2 1463.8 1236.8C1465.8 1235.6 1467.8 1233.4 1469.8 1232.0C1471.8 1230.6 1473.8 1230.0 1475.8 1228.4C1477.8 1226.8 1479.8 1225.1 1481.8 1222.3C1483.0 1220.6 1484.2 1217.5 1485.4 1216.3C1487.0 1214.7 1488.6 1215.1 1490.2 1213.9C1491.8 1212.7 1493.4 1212.3 1495.0 1209.1C1495.8 1207.5 1496.6 1203.8 1497.4 1199.5C1498.2 1195.0 1499.1 1184.5 1499.9 1182.6C1500.9 1180.2 1502.0 1179.0 1503.0 1179.0C1504.0 1179.0 1504.9 1183.6 1505.9 1187.5C1506.7 1190.8 1507.5 1197.9 1508.3 1199.5C1509.5 1201.9 1510.7 1203.1 1511.9 1203.1C1512.9 1203.1 1514.0 1201.9 1515.0 1199.5C1515.8 1197.6 1516.6 1191.2 1517.4 1189.9C1518.4 1188.3 1519.3 1187.5 1520.3 1187.5C1521.5 1187.5 1522.7 1189.5 1523.9 1192.3C1525.1 1195.1 1526.3 1200.9 1527.5 1204.3C1528.7 1207.7 1529.9 1211.8 1531.1 1212.7C1532.2 1213.5 1533.2 1213.9 1534.3 1213.9C1535.7 1213.9 1537.0 1211.1 1538.4 1209.1C1539.6 1207.4 1540.8 1205.7 1542.0 1203.1C1542.8 1201.4 1543.6 1197.1 1544.4 1197.1C1546.4 1197.1 1548.4 1197.1 1550.4 1197.1C1552.0 1197.1 1553.6 1193.5 1555.2 1193.5C1556.8 1193.5 1558.4 1194.6 1560.0 1195.9C1561.2 1196.8 1562.4 1198.3 1563.6 1199.5C1564.8 1200.7 1566.0 1203.1 1567.2 1203.1C1568.6 1203.1 1569.9 1201.5 1571.3 1198.3C1572.3 1195.9 1573.4 1193.1 1574.4 1185.1C1575.2 1178.6 1576.1 1169.7 1576.9 1158.6C1577.4 1151.5 1578.0 1138.2 1578.5 1134.5C1579.3 1128.9 1580.1 1126.1 1580.9 1126.1C1581.7 1126.1 1582.5 1128.9 1583.3 1134.5C1584.0 1139.2 1584.6 1151.6 1585.3 1158.6C1586.3 1168.8 1587.2 1175.6 1588.2 1182.6C1589.2 1190.1 1590.3 1196.9 1591.3 1201.9C1592.3 1206.9 1593.4 1211.2 1594.4 1212.7C1595.5 1214.3 1596.7 1215.1 1597.8 1215.1C1599.2 1215.1 1600.7 1213.3 1602.1 1211.5C1603.3 1210.0 1604.5 1207.5 1605.7 1205.5C1606.9 1203.5 1608.1 1202.6 1609.3 1199.5C1610.4 1196.5 1611.6 1193.2 1612.7 1187.5C1613.6 1183.0 1614.5 1178.9 1615.4 1170.6C1616.1 1164.2 1616.8 1154.1 1617.5 1146.6C1618.3 1138.0 1619.1 1129.3 1619.9 1122.5C1620.9 1114.3 1621.8 1109.8 1622.8 1103.2C1623.6 1097.7 1624.4 1094.5 1625.2 1086.4C1625.8 1080.0 1626.5 1070.8 1627.1 1062.3C1627.7 1054.7 1628.2 1045.8 1628.8 1038.3C1629.6 1027.7 1630.4 1019.4 1631.2 1009.4C1632.0 999.4 1632.8 990.9 1633.6 978.1C1634.9 956.7 1636.3 950.1 1637.6 894.1C1638.1 873.1 1638.6 847.7 1639.1 819.3C1639.5 796.6 1639.9 764.2 1640.3 744.4C1640.8 719.7 1641.3 708.4 1641.8 694.6C1642.4 678.1 1643.0 665.9 1643.6 657.2C1644.2 649.0 1644.7 642.7 1645.3 642.7C1646.1 642.7 1647.0 651.7 1647.8 669.6C1648.3 680.4 1648.8 701.5 1649.3 719.5C1649.7 735.1 1650.2 752.0 1650.6 769.4C1651.0 785.4 1651.4 807.4 1651.8 819.3C1652.3 834.2 1652.8 841.7 1653.3 841.7C1654.0 841.7 1654.6 834.2 1655.3 819.3C1655.6 811.8 1656.0 786.0 1656.3 769.4C1656.6 752.8 1657.0 734.0 1657.3 719.5C1657.6 705.0 1658.0 691.7 1658.3 682.1C1658.8 667.7 1659.3 660.2 1659.8 658.4C1660.5 655.9 1661.1 654.9 1661.8 654.7C1662.8 654.4 1663.8 654.2 1664.8 654.2C1665.8 654.2 1666.8 656.0 1667.8 659.7C1668.6 662.8 1669.5 670.8 1670.3 674.6C1671.4 679.4 1672.4 683.3 1673.5 683.3C1674.8 683.3 1676.0 680.4 1677.3 674.6C1678.0 671.5 1678.6 653.9 1679.3 644.7C1680.1 633.6 1680.9 623.8 1681.7 614.8C1682.5 605.4 1683.4 597.3 1684.2 589.8C1685.0 582.3 1685.9 575.1 1686.7 569.9C1687.7 563.7 1688.7 557.4 1689.7 557.4C1691.0 557.4 1692.2 561.6 1693.5 569.9C1694.3 575.4 1695.2 589.8 1696.0 599.8C1696.8 609.8 1697.7 622.3 1698.5 629.7C1699.3 636.8 1700.1 643.9 1700.9 643.9C1701.7 643.9 1702.6 639.2 1703.4 629.7C1703.8 624.8 1704.3 608.4 1704.7 599.8C1705.4 586.6 1706.0 575.9 1706.7 569.9C1707.5 562.4 1708.4 560.3 1709.2 558.7C1710.2 556.8 1711.2 555.9 1712.2 555.9C1713.4 555.9 1714.7 560.6 1715.9 569.9C1716.7 576.2 1717.6 592.7 1718.4 607.3C1719.2 621.9 1720.1 640.6 1720.9 657.2C1721.7 673.8 1722.6 690.4 1723.4 707.0C1724.2 723.6 1725.1 740.3 1725.9 756.9C1726.7 773.5 1727.6 791.8 1728.4 806.8C1729.5 826.0 1730.5 841.8 1731.6 856.7C1732.6 870.7 1733.6 882.8 1734.6 894.1C1735.9 908.4 1737.1 920.7 1738.4 931.5C1740.7 951.0 1743.0 960.4 1745.3 973.3C1746.5 980.0 1747.7 986.9 1748.9 992.6C1750.5 1000.2 1752.1 1006.2 1753.7 1011.8C1755.3 1017.4 1756.9 1022.2 1758.5 1026.2C1760.1 1030.2 1761.7 1033.7 1763.3 1035.9C1764.9 1038.1 1766.5 1037.1 1768.1 1039.5C1769.3 1041.3 1770.6 1046.6 1771.8 1050.3C1773.0 1053.9 1774.2 1058.0 1775.4 1061.1C1777.0 1065.2 1778.6 1068.0 1780.2 1070.8C1782.6 1075.0 1785.0 1077.6 1787.4 1080.4C1789.8 1083.2 1792.2 1085.6 1794.6 1087.6C1797.0 1089.6 1799.4 1091.6 1801.8 1092.4C1804.2 1093.2 1806.6 1093.0 1809.0 1093.6C1811.4 1094.2 1813.9 1094.4 1816.3 1096.0C1818.7 1097.6 1821.1 1101.0 1823.5 1103.2C1825.9 1105.4 1828.3 1107.9 1830.7 1109.3C1833.1 1110.7 1835.5 1110.8 1837.9 1111.7C1839.9 1112.4 1841.9 1112.7 1843.9 1114.1C1845.9 1115.5 1848.0 1117.5 1850.0 1120.1C1852.4 1123.2 1854.8 1127.3 1857.2 1132.1C1858.8 1135.3 1860.4 1139.6 1862.0 1142.9C1864.0 1147.0 1866.0 1150.8 1868.0 1153.8C1870.4 1157.5 1872.8 1159.9 1875.2 1162.2C1878.0 1164.9 1880.8 1166.0 1883.6 1168.2C1886.0 1170.1 1888.5 1172.4 1890.9 1174.2C1893.9 1176.5 1897.0 1176.6 1900.0 1180.2C1901.4 1181.9 1902.8 1184.7 1904.2 1186.3C1906.1 1188.5 1907.9 1189.7 1909.8 1190.8C1912.0 1192.1 1914.2 1193.0 1916.4 1193.0C1919.4 1193.0 1922.3 1191.9 1925.3 1191.9C1927.5 1191.9 1929.7 1194.2 1931.9 1195.2C1934.9 1196.6 1937.8 1197.7 1940.8 1199.0C1943.7 1200.3 1946.7 1201.8 1949.6 1202.9C1952.6 1204.0 1955.5 1205.0 1958.5 1205.8C1962.2 1206.8 1965.8 1206.7 1969.5 1207.8C1972.1 1208.6 1974.7 1209.4 1977.3 1210.7C1979.1 1211.6 1981.0 1212.6 1982.8 1214.0C1985.0 1215.7 1987.3 1218.3 1989.5 1220.2C1991.7 1222.0 1993.9 1223.6 1996.1 1225.1C1998.3 1226.6 2000.6 1228.0 2002.8 1229.1C2005.7 1230.5 2008.7 1231.2 2011.6 1232.2C2014.2 1233.1 2016.8 1234.1 2019.4 1235.0C2021.6 1235.8 2023.8 1235.8 2026.0 1237.3C2027.8 1238.6 2029.7 1241.1 2031.5 1242.8C2033.7 1244.9 2036.0 1246.8 2038.2 1248.3C2040.4 1249.8 2042.6 1250.5 2044.8 1251.6C2047.0 1252.7 2049.3 1253.6 2051.5 1255.0C2053.7 1256.4 2055.9 1258.1 2058.1 1259.8C2060.3 1261.5 2062.5 1263.3 2064.7 1264.9C2066.9 1266.5 2069.2 1267.7 2071.4 1269.4C2073.6 1271.1 2075.8 1273.4 2078.0 1274.9C2079.9 1276.2 2081.7 1277.2 2083.6 1278.2C2085.1 1279.0 2086.5 1279.1 2088.0 1280.4C2089.5 1281.7 2090.9 1284.3 2092.4 1286.0C2094.3 1288.1 2096.1 1289.8 2098.0 1291.5C2099.5 1292.8 2100.9 1295.3 2102.4 1295.3C2103.9 1295.3 2105.3 1294.4 2106.8 1294.4C2108.6 1294.4 2110.5 1296.2 2112.3 1297.0C2114.2 1297.8 2116.0 1297.9 2117.9 1299.2C2119.4 1300.2 2120.8 1303.2 2122.3 1303.2C2123.8 1303.2 2125.2 1303.0 2126.7 1302.6C2127.8 1302.3 2129.0 1300.4 2130.1 1300.4C2131.6 1300.4 2133.0 1302.1 2134.5 1302.6C2136.3 1303.3 2138.2 1303.7 2140.0 1303.7C2141.5 1303.7 2142.9 1302.6 2144.4 1302.6C2145.5 1302.6 2146.7 1304.8 2147.8 1304.8C2149.3 1304.8 2150.7 1302.5 2152.2 1301.9C2153.7 1301.3 2155.1 1301.0 2156.6 1301.0C2158.5 1301.0 2160.3 1301.3 2162.2 1301.9C2164.0 1302.5 2165.9 1306.3 2167.7 1306.3C2169.5 1306.3 2171.4 1305.9 2173.2 1305.9C2175.4 1305.9 2177.7 1307.0 2179.9 1307.0C2181.7 1307.0 2183.6 1306.3 2185.4 1306.3C2187.2 1306.3 2189.1 1307.5 2190.9 1308.1C2193.1 1308.8 2195.4 1309.3 2197.6 1309.9C2200.2 1310.6 2202.7 1312.1 2205.3 1312.1C2207.9 1312.1 2210.5 1311.1 2213.1 1310.8C2216.0 1310.5 2219.0 1310.3 2221.9 1310.3C2224.9 1310.3 2227.8 1311.4 2230.8 1311.9C2233.7 1312.3 2236.7 1313.0 2239.6 1313.0C2242.2 1313.0 2244.8 1311.4 2247.4 1311.4C2249.2 1311.4 2251.1 1312.9 2252.9 1313.6C2255.1 1314.4 2257.4 1315.9 2259.6 1315.9C2262.5 1315.9 2265.5 1315.9 2268.4 1315.9C2271.0 1315.9 2273.6 1314.9 2276.2 1313.6C2278.0 1312.7 2279.9 1310.9 2281.7 1309.9C2283.2 1309.1 2284.6 1308.1 2286.1 1308.1C2287.6 1308.1 2289.1 1308.7 2290.6 1309.2"/>
<rect x="180.5" y="24" width="2220.5" height="1789.5" fill="none" stroke="#000" stroke-width="6.5"/>
<path d="M208.5 1796V1812M347.3 1778V1812M486.1 1796V1812M624.8 1778V1812M763.6 1796V1812M902.4 1778V1812M1041.1 1796V1812M1179.9 1778V1812M1318.7 1796V1812M1457.4 1778V1812M1596.2 1796V1812M1735.0 1778V1812M1873.7 1796V1812M2012.5 1778V1812M2151.2 1796V1812M2290.0 1778V1812" stroke="#000" stroke-width="6" fill="none"/>
<text class="tk" x="347.3" y="1915.8">500</text>
<text class="tk" x="624.8" y="1915.8">1000</text>
<text class="tk" x="902.4" y="1915.8">1500</text>
<text class="tk" x="1179.9" y="1915.8">2000</text>
<text class="tk" x="1457.4" y="1915.8">2500</text>
<text class="tk" x="1735.0" y="1915.8">3000</text>
<text class="tk" x="2012.5" y="1915.8">3500</text>
<text class="tk" x="2290.0" y="1915.8">4000</text>
<text class="ax" text-anchor="middle" aria-label="Wavelength (cm-1)"><tspan x="929.3" y="2009.3" textLength="44.0" lengthAdjust="spacingAndGlyphs" stroke="#000" stroke-width="0.8">W</tspan><tspan x="976.2" y="2009.3">a</tspan><tspan x="1023.1" y="2009.3">v</tspan><tspan x="1070.0" y="2009.3">e</tspan><tspan x="1116.9" y="2009.3">l</tspan><tspan x="1163.8" y="2009.3">e</tspan><tspan x="1210.7" y="2009.3">n</tspan><tspan x="1257.6" y="2009.3">g</tspan><tspan x="1304.5" y="2009.3">t</tspan><tspan x="1351.4" y="2009.3">h</tspan><tspan x="1398.3" y="2009.3"> </tspan><tspan x="1453.2" y="2003.3">(</tspan><tspan x="1492.1" y="2009.3">c</tspan><tspan x="1539.0" y="2009.3" textLength="47.0" lengthAdjust="spacingAndGlyphs" stroke="#000" stroke-width="0.8">m</tspan><tspan x="1582" y="1960" font-size="30" textLength="30" lengthAdjust="spacingAndGlyphs">-</tspan><tspan x="1609" y="1972" font-size="50">1</tspan><tspan x="1648" y="2003.3">)</tspan></text>
<text class="ax" text-anchor="middle" aria-label="Absorbance" transform="translate(110,1154.45) rotate(-90)"><tspan x="23.4" y="0.0" textLength="44.0" lengthAdjust="spacingAndGlyphs" stroke="#000" stroke-width="0.8">A</tspan><tspan x="70.8" y="0.0">b</tspan><tspan x="118.0" y="0.0">s</tspan><tspan x="165.3" y="0.0">o</tspan><tspan x="212.6" y="0.0">r</tspan><tspan x="259.9" y="0.0">b</tspan><tspan x="307.2" y="0.0">a</tspan><tspan x="354.5" y="0.0">n</tspan><tspan x="401.8" y="0.0">c</tspan><tspan x="449.1" y="0.0">e</tspan></text>
<line x1="1541" y1="126.3" x2="1725" y2="126.3" stroke="#F14040" stroke-width="9.3" stroke-linecap="round"/>
<line x1="1541" y1="228.5" x2="1725" y2="228.5" stroke="#1A6FDF" stroke-width="9.3" stroke-linecap="round"/>
<text class="ax" text-anchor="middle" aria-label="PP-g-AA-MAH"><tspan x="1795.7" y="158.2" textLength="46.0" lengthAdjust="spacingAndGlyphs">P</tspan><tspan x="1842.4" y="158.2" textLength="46.0" lengthAdjust="spacingAndGlyphs">P</tspan><tspan x="1889.1" y="135.7" font-size="50" textLength="50.0" lengthAdjust="spacingAndGlyphs">-</tspan><tspan x="1935.8" y="158.2">g</tspan><tspan x="1982.5" y="135.7" font-size="50" textLength="50.0" lengthAdjust="spacingAndGlyphs">-</tspan><tspan x="2029.2" y="158.2" textLength="45.0" lengthAdjust="spacingAndGlyphs" stroke="#000" stroke-width="0.8">A</tspan><tspan x="2075.9" y="158.2" textLength="45.0" lengthAdjust="spacingAndGlyphs" stroke="#000" stroke-width="0.8">A</tspan><tspan x="2122.6" y="135.7" font-size="50" textLength="50.0" lengthAdjust="spacingAndGlyphs">-</tspan><tspan x="2169.3" y="158.2" textLength="45.0" lengthAdjust="spacingAndGlyphs" stroke="#000" stroke-width="0.8">M</tspan><tspan x="2216.0" y="158.2" textLength="45.0" lengthAdjust="spacingAndGlyphs" stroke="#000" stroke-width="0.8">A</tspan><tspan x="2262.7" y="158.2" textLength="46.0" lengthAdjust="spacingAndGlyphs" stroke="#000" stroke-width="0.8">H</tspan></text>
<text class="ax" text-anchor="middle" aria-label="PP"><tspan x="1795.7" y="260.4" textLength="46.0" lengthAdjust="spacingAndGlyphs">P</tspan><tspan x="1842.4" y="260.4" textLength="46.0" lengthAdjust="spacingAndGlyphs">P</tspan></text>
<text class="an" x="653" y="383">1376 cm<tspan class="sp" dy="-26">-1</tspan></text>
<text class="an" x="1011" y="490.3">1460 cm<tspan class="sp" dy="-26">-1</tspan></text>
<text class="an" x="1028.6" y="837">1709 cm<tspan class="sp" dy="-26">-1</tspan></text>
<text class="an" x="1407.5" y="526">2838 cm<tspan class="sp" dy="-26">-1</tspan></text>
<text class="an" x="1743.5" y="472.3">2964 cm<tspan class="sp" dy="-26">-1</tspan></text>
<line x1="832.4" y1="488.0" x2="797.0" y2="446.4" stroke="#000" stroke-width="2"/><polygon points="767.8,412.2 807.4,440.2 789.2,455.8" fill="#000"/>
<line x1="879.6" y1="561.0" x2="962.6" y2="509.9" stroke="#000" stroke-width="2"/><polygon points="1000.9,486.3 967.2,521.2 954.6,500.7" fill="#000"/>
<line x1="1010.6" y1="963.1" x2="1064.5" y2="896.9" stroke="#000" stroke-width="2"/><polygon points="1092.9,862.0 1072.5,906.0 1053.9,890.9" fill="#000"/>
<line x1="1643.7" y1="635.0" x2="1591.9" y2="595.6" stroke="#000" stroke-width="2"/><polygon points="1556.1,568.3 1600.8,587.2 1586.2,606.3" fill="#000"/>
<line x1="1714.7" y1="552.0" x2="1786.7" y2="513.7" stroke="#000" stroke-width="2"/><polygon points="1826.4,492.6 1790.5,525.3 1779.3,504.1" fill="#000"/>
</svg></body></html>
